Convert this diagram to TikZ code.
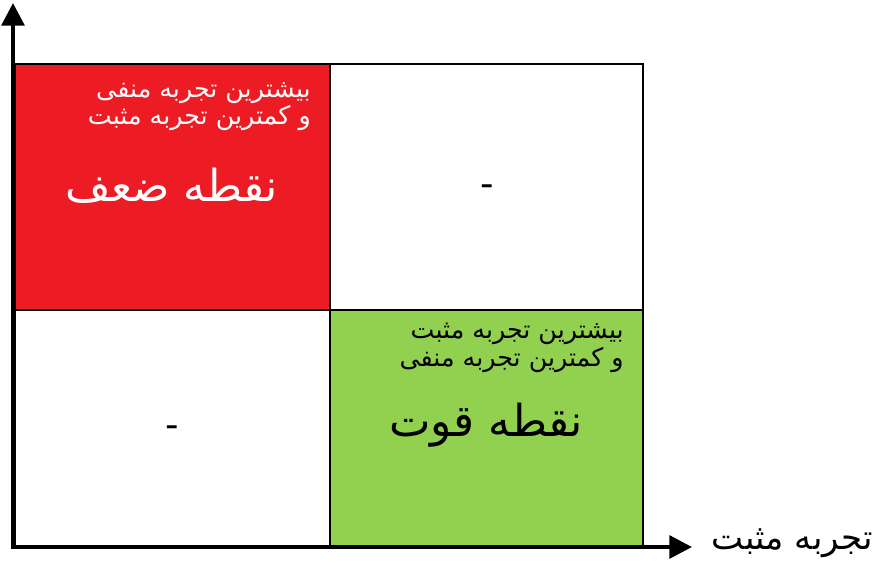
\documentclass[tikz,border=0pt]{standalone}
\usepackage{fontspec}
\newfontfamily\arabicfont[Script=Arabic]{DejaVu Sans}
\TeXXeTstate=1
\usetikzlibrary{arrows.meta}
\definecolor{weakred}{HTML}{ED1C24}
\definecolor{stronggreen}{HTML}{92D050}
\tikzset{
  cell/.style={draw=black, line width=2pt},
  axis/.style={line width=3pt, -{Triangle[length=17pt 0 0,width=17pt 0 0]}},
  small/.style={font=\arabicfont\fontsize{19}{20.5}\selectfont, align=right, anchor=east, inner sep=0pt},
  big/.style={font=\arabicfont\fontsize{33}{38}\selectfont, inner sep=0pt},
  dashlabel/.style={font=\arabicfont\fontsize{28}{30}\selectfont, inner sep=0pt}
}
\begin{document}
\begin{tikzpicture}[x=0.75pt,y=-0.75pt]
\useasboundingbox (0,0) rectangle (877,563);
% cells
\fill[weakred] (15,64) rectangle (330,310);
\fill[stronggreen] (330,310) rectangle (643,547);
\draw[cell] (15,64) rectangle (643,547);
\draw[cell] (330,64) -- (330,547);
\draw[cell] (15,310) -- (643,310);
% axes
\coordinate (o) at (13,547);
\coordinate (ytip) at (13,3);
\coordinate (xtip) at (692,547);
\draw[axis] ([yshift=-1.5pt]o) -- (ytip);
\draw[axis] ([xshift=-1.5pt]o) -- (xtip);
% texts
\node[small, text=white] (tl) at (311,107) {\beginR بیشترین تجربه منفی\endR\\\beginR و کمترین تجربه مثبت\endR};
\node[big, text=white] (weak) at (172,186) {\beginR نقطه ضعف\endR};
\node[dashlabel] (d1) at (487,191) {-};
\node[dashlabel] (d2) at (172,432) {-};
\node[small, text=black] (br) at (624,348) {\beginR بیشترین تجربه مثبت\endR\\\beginR و کمترین تجربه منفی\endR};
\node[big, text=black] (strong) at (486,425) {\beginR نقطه قوت\endR};
\node[font=\arabicfont\fontsize{25.5}{28}\selectfont, anchor=east, inner sep=0pt] (xl) at (873,543) {\beginR تجربه مثبت\endR};
\end{tikzpicture}
\end{document}
